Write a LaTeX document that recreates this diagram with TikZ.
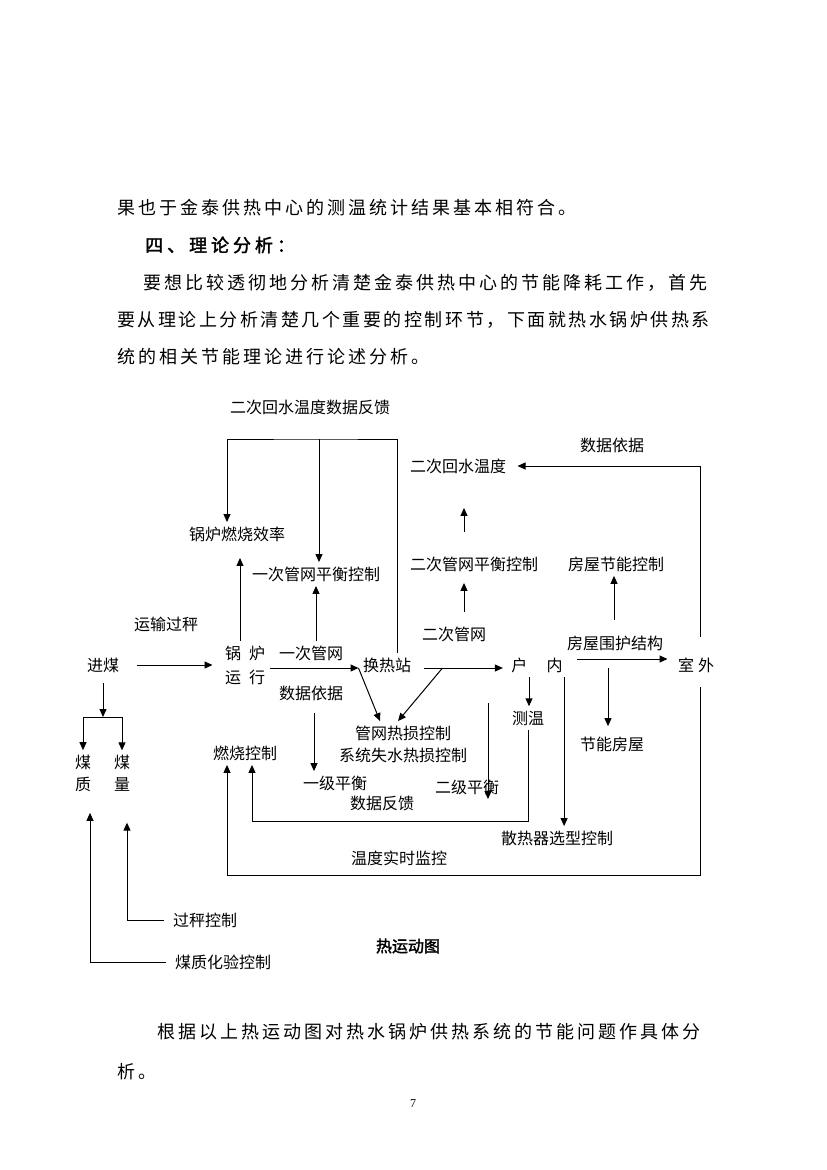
\documentclass[tikz,border=0pt]{standalone}
\usepackage{fontspec}
\setmainfont{Noto Sans CJK SC}[AutoFakeBold=2]
\newfontfamily\bodyfont{Noto Sans CJK SC}[LetterSpace=16.7,AutoFakeBold=2]
\newfontfamily\numfont{Liberation Serif}
\usetikzlibrary{arrows.meta}

\begin{document}
\begin{tikzpicture}[x=1pt,y=-1pt]
\useasboundingbox (0,0) rectangle (827,1170);
        % page text
        \begin{scope}[every node/.style={anchor=west,inner sep=0,font=\bodyfont\fontsize{18}{22}\selectfont}]
                \node (t1) at (117,208) {果也于金泰供热中心的测温统计结果基本相符合。};
                \node[font=\bodyfont\fontsize{18}{22}\selectfont\bfseries\addfontfeature{LetterSpace=22}] (t2) at (145,245) {四、理论分析：};
                \node (t3) at (143,283) {要想比较透彻地分析清楚金泰供热中心的节能降耗工作，首先};
                \node[font=\bodyfont\fontsize{18}{22}\selectfont\addfontfeature{LetterSpace=14}] (t4) at (117,320) {要从理论上分析清楚几个重要的控制环节，下面就热水锅炉供热系};
                \node (t5) at (117,357) {统的相关节能理论进行论述分析。};
                \node (t6) at (157,1032) {根据以上热运动图对热水锅炉供热系统的节能问题作具体分};
                \node (t7) at (117,1072) {析。};
                \node[anchor=center,font=\numfont\fontsize{12}{14}\selectfont] (pg) at (413,1104) {7};
        \end{scope}
        % diagram
        \begin{scope}[every node/.style={inner sep=4pt,align=center,font=\fontsize{16}{22}\selectfont}, every path/.style={line width=1pt,->,>={Triangle[length=8pt,width=7pt]}}]
                \node (fbnote) at (310,407) {二次回水温度数据反馈};
                \node (effic) at (237,534) {锅炉燃烧效率};
                \node (bal1) at (316,574) {一次管网平衡控制};
                \node (ret2) at (458,466) {二次回水温度};
                \node (basis2) at (612,445) {数据依据};
                \node (bal2) at (474,564) {二次管网平衡控制};
                \node (save) at (616,564) {房屋节能控制};
                \node (net2) at (454,634) {二次管网};
                \node (envel) at (615,643) {房屋围护结构};
                \node (trans) at (166,624) {运输过秤};
                \node (coal) at (103,665) {进煤};
                \node[font=\fontsize{16}{24}\selectfont] (boiler) at (245,665) {锅\enspace 炉\\运\enspace 行};
                \node (net1) at (311,653) {一次管网};
                \node (basis1) at (311,693) {数据依据};
                \node (station) at (387,665) {换热站};
                \node (home) at (537,665) {户\hspace{1.2em}内};
                \node (outside) at (696,665) {室\hspace{0.25em}外};
                \node (quality) at (83,773) {煤\\质};
                \node (quantity) at (122,773) {煤\\量};
                \node (burn) at (245,753) {燃烧控制};
                \node (loss1) at (403,733) {管网热损控制};
                \node (loss2) at (403,755) {系统失水热损控制};
                \node (lev1) at (335,783) {一级平衡};
                \node (lev2) at (467,787) {二级平衡};
                \node (meas) at (528,718) {测温};
                \node (house) at (612,744) {节能房屋};
                \node (fbdata) at (382,803) {数据反馈};
                \node (radiator) at (557,838) {散热器选型控制};
                \node (monitor) at (399,858) {温度实时监控};
                \node (weigh) at (205,920) {过秤控制};
                \node (lab) at (223,962) {煤质化验控制};
                \node[font=\fontsize{16}{22}\selectfont\bfseries] (title) at (408,946) {热运动图};

                \coordinate (fb) at (319,439);
                \coordinate (split) at (103,717);
                \coordinate (lowA) at (390,821);
                \coordinate (lowB) at (400,875);

                \draw ([xshift=10pt]station.north) |- (fb) -| ([xshift=-10pt]effic.north);
                \draw (fb) -- (fb |- bal1.north);
                \draw[shorten >=12pt] ([xshift=-5pt]boiler.north) -- ([xshift=-5pt]boiler.north |- effic.south);
                \draw ([xshift=5pt]net1.north) -- ([xshift=5pt]net1.north |- bal1.south);
                \draw[shorten <=20pt,shorten >=30pt] ([xshift=-10pt]bal2.north) -- ([xshift=-10pt]bal2.north |- ret2.south);
                \draw[shorten <=10pt,shorten >=7pt] ([xshift=10pt]net2.north) -- ([xshift=10pt]net2.north |- bal2.south);
                \draw[shorten <=11pt] ([xshift=-1pt]envel.north) -- ([xshift=-1pt]envel.north |- save.south);
                \draw[shorten <=16pt,shorten >=7pt] ([xshift=4pt]outside.north) |- (ret2.east);
                \draw[shorten <=10pt] ([xshift=4pt]outside.south) |- (lowB) -| ([xshift=-18pt]burn.south);
                \draw (meas.south) |- (lowA) -| ([xshift=7pt]burn.south);
                \draw[shorten <=13pt,shorten >=8pt] (coal.east) -- (coal.east -| boiler.west);
                \draw ([yshift=-3pt]boiler.east) -- ([yshift=-3pt]boiler.east -| station.west);
                \draw ([yshift=-3pt]station.west) -- ([xshift=-23pt]loss1.north);
                \draw[shorten <=8pt,shorten >=4pt] ([yshift=-3pt]station.east) -- ([yshift=-3pt]station.east -| home.west);
                \draw ([xshift=27pt,yshift=-3pt]station.east) -- ([xshift=-5pt]loss1.north);
                \draw ([xshift=-8pt]home.south) -- ([xshift=-8pt]home.south |- meas.north);
                \draw ([xshift=-3pt]home.south east) -- ([xshift=-3pt]home.south east |- radiator.north);
                \draw[shorten <=10pt,shorten >=6pt] ([yshift=6pt]home.east) -- ([yshift=6pt]home.east -| outside.west);
                \draw[shorten <=13pt,shorten >=6pt] ([xshift=-7pt]envel.south) -- ([xshift=-7pt]envel.south |- house.north);
                \draw[shorten <=8pt] ([xshift=3pt]basis1.south) -- ([xshift=3pt]basis1.south |- lev1.north);
                \draw[shorten <=57pt] ([xshift=21pt]lev2.center |- net2.south) -- ([xshift=21pt,yshift=-12pt]lev2.center);
                \draw[shorten <=6pt] (coal.south) -- (split);
                \draw (split) -| (quality.north);
                \draw (split) -| (quantity.north);
                \draw[shorten <=5pt,shorten >=27pt] (weigh.west) -| ([xshift=5pt]quantity.south);
                \draw[shorten <=5pt,shorten >=17pt] (lab.west) -| ([xshift=7pt]quality.south);
        \end{scope}
\end{tikzpicture}
\end{document}
